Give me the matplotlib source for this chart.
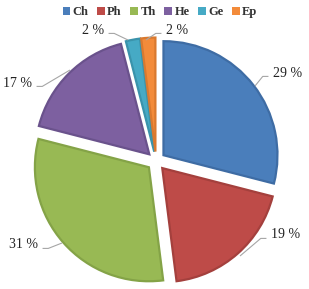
import numpy as np
import matplotlib.pyplot as plt
from matplotlib.patches import Patch

plt.rcParams['font.family'] = ['Liberation Serif', 'DejaVu Serif']

# data
cats = ['Ch', 'Ph', 'Th', 'He', 'Ge', 'Ep']
vals = [29, 19, 31, 17, 2, 2]
cols = ['#4a7ebb', '#be4b48', '#98b954', '#7d60a0', '#46aac5', '#f38b3a']
edges = ['#3e6ca4', '#a4403d', '#84a347', '#6a528c', '#3a93ab', '#d9792f']

# label text anchor (px from top-left) and leader line end points on the slice
lab_px = [(273, 73), (271, 235), (38, 245), (32, 83), (104, 30), (166, 30)]
tip_px = [(255, 86), (240, 256), (62, 243), (70, 70), (128, 40), (146, 40)]

W, H = 309, 289
fig = plt.figure(figsize=(W / 100, H / 100), dpi=100)

s = 114.0           # px per unit radius
cx, cy = 156, 161   # pie centre, px from top-left
lim = 1.5
aw = 2 * lim * s
ax = fig.add_axes([(cx - aw / 2) / W, (H - cy - aw / 2) / H, aw / W, aw / H])

ex = 0.083
wedges, _ = ax.pie(vals, colors=cols, startangle=90, counterclock=False,
                   explode=[ex] * len(vals), radius=1.0,
                   wedgeprops=dict(linewidth=1.6))
for w, e in zip(wedges, edges):
    w.set_edgecolor(e)
ax.set_xlim(-lim, lim)
ax.set_ylim(-lim, lim)
ax.axis('off')


def to_data(p):
    return (p[0] - cx) / s, (cy - p[1]) / s


for i, v in enumerate(vals):
    lx, ly = to_data(lab_px[i])
    tx, ty = to_data(tip_px[i])
    left = lab_px[i][0] > tip_px[i][0]
    ha = 'left' if left else 'right'
    kx = lx - 0.04 if left else lx + 0.04
    ax.plot([tx, kx - (0.05 if left else -0.05), kx], [ty, ly - 0.03, ly - 0.03],
            color='#a6a6a6', lw=0.8, solid_capstyle='butt')
    ax.text(lx, ly, f'{v} %', ha=ha, va='center', fontsize=10, color='#222222')

handles = [Patch(facecolor=c, edgecolor='none') for c in cols]
fig.legend(handles, cats, loc='center', bbox_to_anchor=(160 / W, 1 - 12 / H),
           ncol=6, frameon=False, handlelength=0.6, borderpad=0,
           handleheight=0.6, handletextpad=0.2, columnspacing=0.7,
           prop={'family': ['Liberation Serif'], 'size': 9, 'weight': 'bold'},
           labelcolor='#333333')

fig.savefig('out.png', dpi=100)
